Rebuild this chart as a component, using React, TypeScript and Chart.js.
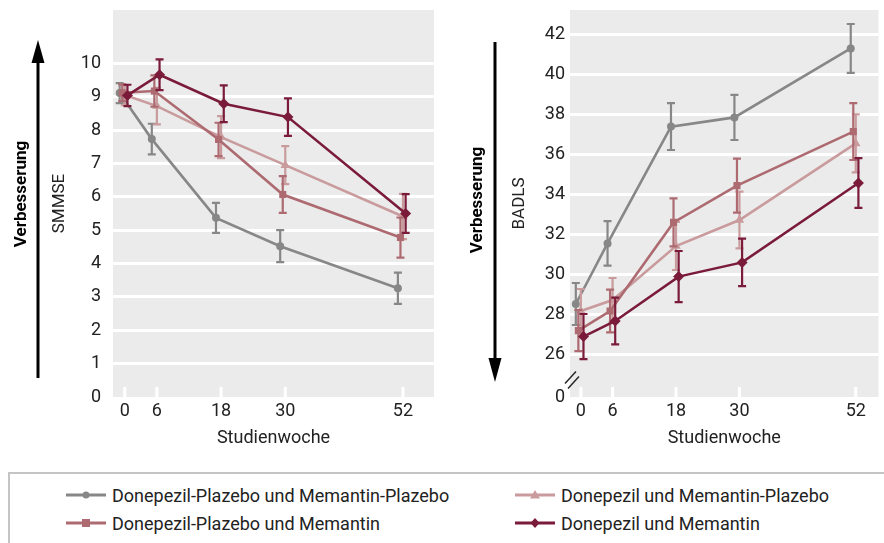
import React, { useEffect, useRef } from "react";
import { Chart, registerables } from "chart.js";

Chart.register(...registerables);

const FONT = "Roboto, 'Open Sans', sans-serif";
const TEXT = "#222222";

// ---------- data ----------
const WEEKS = [0, 6, 18, 30, 52];
const WEEK_TICKS = [0, 6, 18, 30, 52];
const SMMSE_TICKS = [0, 1, 2, 3, 4, 5, 6, 7, 8, 9, 10];
const BADLS_TICKS = [26, 28, 30, 32, 34, 36, 38, 40, 42];
const BADLS_ZERO_LABEL = "0";

const NAMES = [
  "Donepezil-Plazebo und Memantin-Plazebo",
  "Donepezil und Memantin-Plazebo",
  "Donepezil-Plazebo und Memantin",
  "Donepezil und Memantin",
];

// SMMSE (mean, error)
const SMMSE_PP = [9.11, 7.73, 5.37, 4.52, 3.26];
const SMMSE_PP_ERR = [0.3, 0.46, 0.45, 0.48, 0.47];
const SMMSE_DP = [9.05, 8.72, 7.79, 6.95, 5.41];
const SMMSE_DP_ERR = [0.3, 0.55, 0.63, 0.57, 0.68];
const SMMSE_PM = [9.12, 9.17, 7.72, 6.07, 4.78];
const SMMSE_PM_ERR = [0.25, 0.47, 0.5, 0.55, 0.6];
const SMMSE_DM = [9.04, 9.66, 8.79, 8.39, 5.5];
const SMMSE_DM_ERR = [0.32, 0.46, 0.55, 0.56, 0.58];

// BADLS (mean, error)
const BADLS_PP = [28.5, 31.53, 37.37, 37.83, 41.28];
const BADLS_PP_ERR = [1.05, 1.11, 1.17, 1.13, 1.22];
const BADLS_DP = [28.15, 28.7, 31.4, 32.7, 36.53];
const BADLS_DP_ERR = [1.1, 1.1, 1.2, 1.42, 1.45];
const BADLS_PM = [27.17, 28.15, 32.58, 34.42, 37.12];
const BADLS_PM_ERR = [1.03, 1.07, 1.2, 1.35, 1.42];
const BADLS_DM = [26.87, 27.65, 29.87, 30.58, 34.55];
const BADLS_DM_ERR = [1.13, 1.17, 1.28, 1.19, 1.24];

// ---------- styles ----------
const STYLES = [
  { color: "#878787", point: "circle", radius: 4, dodge: -0.95, order: 3 },
  { color: "#c99b9d", point: "triangle", radius: 5.5, dodge: 0.0, order: 2 },
  { color: "#ad6b71", point: "rect", radius: 5, dodge: -0.47, order: 1 },
  { color: "#7a1b3a", point: "rectRot", radius: 5.5, dodge: 0.5, order: 0 },
];

function makeDatasets(values: number[][], errors: number[][]) {
  return values.map((vals, i) => {
    const s = STYLES[i];
    return {
      label: NAMES[i],
      data: vals.map((v, j) => ({ x: WEEKS[j] + s.dodge, y: v })),
      errors: errors[i],
      borderColor: s.color,
      backgroundColor: s.color,
      borderWidth: 2.6,
      pointStyle: s.point,
      pointRadius: s.radius,
      pointBorderWidth: 0,
      pointBackgroundColor: s.color,
      tension: 0,
      order: s.order,
    };
  });
}

const decorPlugin = {
  id: "plotDecor",
  beforeDraw(chart: any) {
    const { ctx, chartArea: a } = chart;
    ctx.save();
    ctx.fillStyle = "#ebebeb";
    ctx.fillRect(a.left, a.top, a.right - a.left, a.bottom - a.top);
    ctx.restore();
  },
  beforeDatasetsDraw(chart: any) {
    const { ctx, chartArea: a } = chart;
    const xs = chart.scales.x;
    ctx.save();
    ctx.strokeStyle = "#ffffff";
    ctx.lineWidth = 3;
    WEEK_TICKS.forEach((w) => {
      const px = xs.getPixelForValue(w);
      ctx.beginPath();
      ctx.moveTo(px, a.bottom);
      ctx.lineTo(px, a.bottom - 10);
      ctx.stroke();
    });
    ctx.restore();
  },
  afterDraw(chart: any, _args: any, opts: any) {
    if (!opts || !opts.breakMark) return;
    const { ctx, chartArea: a } = chart;
    const ys = chart.scales.y;
    const yTop = ys.getPixelForValue(BADLS_TICKS[0]);
    const mid = (yTop + a.bottom) / 2 + 2;
    ctx.save();
    ctx.strokeStyle = "#222";
    ctx.lineWidth = 1.4;
    [[-5, 0], [-2, 5]].forEach(([dx, dy]) => {
      ctx.beginPath();
      ctx.moveTo(a.left + dx, mid + 6 + dy);
      ctx.lineTo(a.left + dx + 11, mid - 6 + dy);
      ctx.stroke();
    });
    ctx.restore();
  },
};

const errorBarPlugin = {
  id: "errorBars",
  beforeDatasetDraw(chart: any, args: any) {
    const ds = chart.data.datasets[args.index];
    const errs: number[] = ds.errors;
    if (!errs) return;
    const { ctx } = chart;
    const ys = chart.scales.y;
    ctx.save();
    ctx.strokeStyle = ds.borderColor;
    ctx.lineWidth = 2.2;
    args.meta.data.forEach((pt: any, i: number) => {
      const v = ds.data[i].y;
      const e = errs[i];
      const x = pt.x;
      const t = ys.getPixelForValue(v + e);
      const b = ys.getPixelForValue(v - e);
      ctx.beginPath();
      ctx.moveTo(x, t);
      ctx.lineTo(x, b);
      ctx.moveTo(x - 4, t);
      ctx.lineTo(x + 4, t);
      ctx.moveTo(x - 4, b);
      ctx.lineTo(x + 4, b);
      ctx.stroke();
    });
    ctx.restore();
  },
};

type Cfg = {
  datasets: any[];
  xMin: number;
  xMax: number;
  yMin: number;
  yMax: number;
  yTicks: number[];
  yTitle: string;
  padLeft: number;
  padRight: number;
  yWidth: number;
  tickPad: number;
  breakMark: boolean;
};

function makeConfig(c: Cfg): any {
  const tickFont = { family: FONT, size: 18 };
  return {
    type: "line",
    data: { datasets: c.datasets },
    plugins: [decorPlugin, errorBarPlugin],
    options: {
      animation: false,
      responsive: false,
      layout: { padding: { left: c.padLeft, right: c.padRight, top: 10, bottom: 0 } },
      plugins: {
        legend: { display: false },
        tooltip: { enabled: false },
        plotDecor: { breakMark: c.breakMark },
      },
      scales: {
        x: {
          type: "linear",
          min: c.xMin,
          max: c.xMax,
          afterBuildTicks: (s: any) => {
            s.ticks = WEEK_TICKS.map((v) => ({ value: v }));
          },
          afterFit: (s: any) => {
            s.height = 63;
            s.paddingLeft = 0;
            s.paddingRight = 0;
          },
          ticks: {
            font: tickFont,
            color: TEXT,
            padding: 4,
            maxRotation: 0,
            autoSkip: false,
            callback: (v: any) => String(v),
          },
          grid: { display: false, drawTicks: false },
          border: { display: false },
          title: {
            display: true,
            text: "Studienwoche",
            font: tickFont,
            color: TEXT,
            padding: { top: 0, bottom: 11 },
          },
        },
        y: {
          type: "linear",
          min: c.yMin,
          max: c.yMax,
          afterBuildTicks: (s: any) => {
            s.ticks = [c.yMin, ...c.yTicks]
              .filter((v, i, arr) => arr.indexOf(v) === i)
              .map((v) => ({ value: v }));
          },
          afterFit: (s: any) => {
            s.width = c.yWidth;
            s.paddingTop = 0;
            s.paddingBottom = 0;
          },
          ticks: {
            font: tickFont,
            color: TEXT,
            padding: c.tickPad,
            autoSkip: false,
            callback: (v: any) => (v === c.yMin ? (c.breakMark ? BADLS_ZERO_LABEL : "0") : String(v)),
          },
          grid: {
            drawTicks: false,
            lineWidth: 3,
            color: (ctx: any) => (ctx.tick && ctx.tick.value === c.yMin ? "rgba(0,0,0,0)" : "#ffffff"),
          },
          border: { display: false },
          title: {
            display: true,
            text: c.yTitle,
            font: { family: FONT, size: 17 },
            color: TEXT,
            padding: { top: 0, bottom: 0 },
          },
        },
      },
    },
  };
}

function ChartCanvas({ cfg, width, height, left }: { cfg: Cfg; width: number; height: number; left: number }) {
  const ref = useRef<HTMLCanvasElement | null>(null);
  useEffect(() => {
    if (!ref.current) return;
    const chart = new Chart(ref.current, makeConfig(cfg));
    return () => chart.destroy();
  }, []);
  return (
    <canvas
      ref={ref}
      width={width}
      height={height}
      style={{ position: "absolute", left, top: 0, width, height }}
    />
  );
}

function LegendMarker({ idx }: { idx: number }) {
  const s = STYLES[idx];
  const cx = 20;
  const cy = 7;
  let shape: any = null;
  if (s.point === "circle") shape = <circle cx={cx} cy={cy} r={3.5} fill={s.color} />;
  else if (s.point === "rect") shape = <rect x={cx - 4} y={cy - 4} width={8} height={8} fill={s.color} />;
  else if (s.point === "triangle")
    shape = <polygon points={`${cx},${cy - 5} ${cx - 5},${cy + 3.5} ${cx + 5},${cy + 3.5}`} fill={s.color} />;
  else shape = <polygon points={`${cx},${cy - 5} ${cx + 4.5},${cy} ${cx},${cy + 5} ${cx - 4.5},${cy}`} fill={s.color} />;
  return (
    <svg width={40} height={14} style={{ display: "block" }}>
      <line x1={0} y1={cy} x2={40} y2={cy} stroke={s.color} strokeWidth={3} />
      {shape}
    </svg>
  );
}

const LEGEND_POS = [
  { idx: 0, x: 66, y: 495 },
  { idx: 1, x: 515, y: 495 },
  { idx: 2, x: 66, y: 523 },
  { idx: 3, x: 515, y: 523 },
];

export default function App() {
  const left: Cfg = {
    datasets: makeDatasets(
      [SMMSE_PP, SMMSE_DP, SMMSE_PM, SMMSE_DM],
      [SMMSE_PP_ERR, SMMSE_DP_ERR, SMMSE_PM_ERR, SMMSE_DM_ERR]
    ),
    xMin: -2.2,
    xMax: 57.8,
    yMin: 0,
    yMax: 11.6,
    yTicks: SMMSE_TICKS,
    yTitle: "SMMSE",
    padLeft: 50,
    padRight: 6,
    yWidth: 63,
    tickPad: 12,
    breakMark: false,
  };
  const right: Cfg = {
    datasets: makeDatasets(
      [BADLS_PP, BADLS_DP, BADLS_PM, BADLS_DM],
      [BADLS_PP_ERR, BADLS_DP_ERR, BADLS_PM_ERR, BADLS_DM_ERR]
    ),
    xMin: -2.05,
    xMax: 56.3,
    yMin: 23.85,
    yMax: 43.2,
    yTicks: BADLS_TICKS,
    yTitle: "BADLS",
    padLeft: 70,
    padRight: 0,
    yWidth: 60,
    tickPad: 5,
    breakMark: true,
  };
  return (
    <div style={{ position: "absolute", left: 0, top: 0, width: 884, height: 543, overflow: "hidden", background: "#fff", fontFamily: FONT }}>
      <ChartCanvas cfg={left} width={440} height={460} left={0} />
      <ChartCanvas cfg={right} width={444} height={460} left={440} />
      <svg width={884} height={460} style={{ position: "absolute", left: 0, top: 0, pointerEvents: "none" }}>
        <line x1={38} y1={378} x2={38} y2={58} stroke="#000" strokeWidth={3} />
        <polygon points="38,40 31.5,63 44.5,63" fill="#000" />
        <text
          transform="translate(19.5,194) rotate(-90)"
          textAnchor="middle"
          dominantBaseline="central"
          fontWeight="bold"
          fontSize={17}
          fontFamily={FONT}
          fill="#000"
        >
          Verbesserung
        </text>
        <line x1={495} y1={42} x2={495} y2={362} stroke="#000" strokeWidth={3} />
        <polygon points="495,382 488.5,358 501.5,358" fill="#000" />
        <text
          transform="translate(476,200) rotate(-90)"
          textAnchor="middle"
          dominantBaseline="central"
          fontWeight="bold"
          fontSize={17}
          fontFamily={FONT}
          fill="#000"
        >
          Verbesserung
        </text>
      </svg>
      <div
        style={{
          position: "absolute",
          left: 8,
          top: 472,
          width: 900,
          height: 100,
          border: "2px solid #c4c4c4",
          boxSizing: "border-box",
        }}
      />
      {LEGEND_POS.map((p) => (
        <div
          key={p.idx}
          style={{
            position: "absolute",
            left: p.x,
            top: p.y - 12,
            height: 24,
            display: "flex",
            alignItems: "center",
            whiteSpace: "nowrap",
            fontSize: 18,
            color: TEXT,
          }}
        >
          <LegendMarker idx={p.idx} />
          <span style={{ marginLeft: 6 }}>{NAMES[p.idx]}</span>
        </div>
      ))}
    </div>
  );
}
